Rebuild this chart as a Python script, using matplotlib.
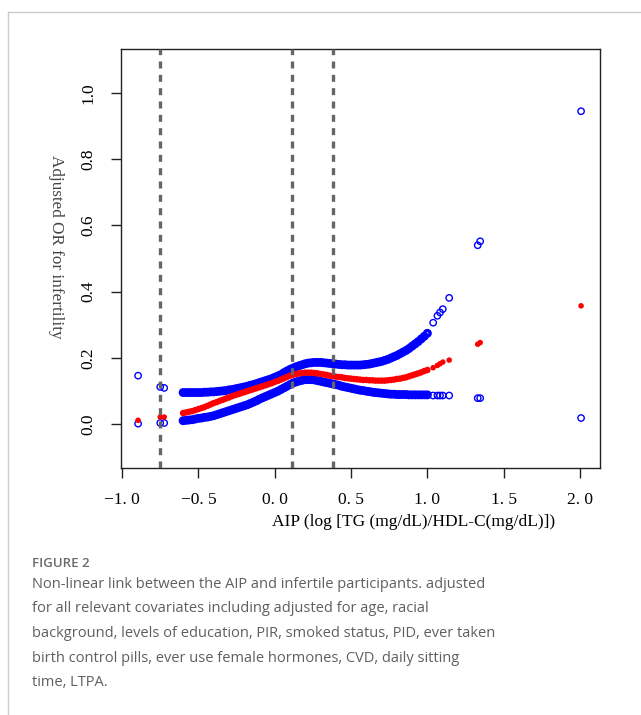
import matplotlib.pyplot as plt
from matplotlib.lines import Line2D

# AIP values and the fitted OR with its upper / lower limits
aip = [-0.895, -0.750, -0.724,
       -0.60, -0.58, -0.56, -0.54, -0.52, -0.50, -0.48, -0.46, -0.44, -0.42,
       -0.40, -0.38, -0.36, -0.34, -0.32, -0.30, -0.28, -0.26, -0.24, -0.22,
       -0.20, -0.18, -0.16, -0.14, -0.12, -0.10, -0.08, -0.06, -0.04, -0.02,
       0.00, 0.02, 0.04, 0.06, 0.08, 0.10, 0.12, 0.14, 0.16, 0.18,
       0.20, 0.22, 0.24, 0.26, 0.28, 0.30, 0.32, 0.34, 0.36, 0.38,
       0.40, 0.42, 0.44, 0.46, 0.48, 0.50, 0.52, 0.54, 0.56, 0.58,
       0.60, 0.62, 0.64, 0.66, 0.68, 0.70, 0.72, 0.74, 0.76, 0.78,
       0.80, 0.82, 0.84, 0.86, 0.88, 0.90, 0.92, 0.94, 0.96, 0.98, 1.00,
       1.038, 1.066, 1.083, 1.101, 1.143, 1.330, 1.346, 2.007]

or_upper = [0.146, 0.112, 0.109,
            0.095, 0.095, 0.095, 0.095, 0.095, 0.095, 0.095, 0.096, 0.096, 0.097,
            0.097, 0.098, 0.099, 0.100, 0.101, 0.103, 0.104, 0.106, 0.108, 0.110,
            0.112, 0.114, 0.117, 0.119, 0.122, 0.125, 0.128, 0.131, 0.134, 0.137,
            0.141, 0.145, 0.149, 0.155, 0.160, 0.165, 0.169, 0.173, 0.176, 0.179,
            0.182, 0.184, 0.185, 0.186, 0.186, 0.186, 0.185, 0.184, 0.183, 0.182,
            0.181, 0.180, 0.179, 0.179, 0.178, 0.178, 0.178, 0.178, 0.178, 0.179,
            0.180, 0.181, 0.183, 0.185, 0.187, 0.189, 0.192, 0.195, 0.199, 0.203,
            0.207, 0.212, 0.217, 0.222, 0.228, 0.235, 0.242, 0.249, 0.257, 0.265, 0.274,
            0.306, 0.327, 0.337, 0.347, 0.381, 0.540, 0.552, 0.945]

or_fit = [0.011, 0.021, 0.021,
          0.033, 0.035, 0.037, 0.039, 0.042, 0.045, 0.048, 0.051, 0.055, 0.059,
          0.063, 0.066, 0.070, 0.073, 0.077, 0.080, 0.084, 0.087, 0.090, 0.093,
          0.096, 0.099, 0.102, 0.105, 0.108, 0.111, 0.114, 0.117, 0.120, 0.123,
          0.127, 0.130, 0.134, 0.138, 0.142, 0.146, 0.149, 0.151, 0.153, 0.154,
          0.155, 0.155, 0.155, 0.154, 0.153, 0.151, 0.150, 0.148, 0.146, 0.145,
          0.143, 0.142, 0.141, 0.139, 0.138, 0.137, 0.136, 0.135, 0.134, 0.133,
          0.133, 0.132, 0.132, 0.131, 0.131, 0.131, 0.131, 0.132, 0.133, 0.134,
          0.136, 0.137, 0.139, 0.141, 0.144, 0.147, 0.150, 0.153, 0.156, 0.160, 0.163,
          0.170, 0.177, 0.182, 0.187, 0.193, 0.241, 0.246, 0.357]

or_lower = [0.001, 0.003, 0.003,
            0.010, 0.011, 0.012, 0.013, 0.015, 0.017, 0.018, 0.020, 0.021, 0.023,
            0.025, 0.028, 0.031, 0.034, 0.037, 0.040, 0.043, 0.046, 0.049, 0.052,
            0.055, 0.058, 0.062, 0.066, 0.070, 0.075, 0.079, 0.083, 0.087, 0.091,
            0.095, 0.099, 0.104, 0.109, 0.114, 0.119, 0.124, 0.127, 0.130, 0.132,
            0.134, 0.134, 0.134, 0.133, 0.131, 0.129, 0.127, 0.125, 0.123, 0.121,
            0.119, 0.117, 0.114, 0.112, 0.110, 0.108, 0.106, 0.104, 0.102, 0.101,
            0.099, 0.098, 0.096, 0.095, 0.094, 0.093, 0.092, 0.091, 0.090, 0.090,
            0.089, 0.089, 0.089, 0.089, 0.088, 0.088, 0.088, 0.088, 0.088, 0.088, 0.088,
            0.086, 0.086, 0.086, 0.086, 0.086, 0.078, 0.078, 0.018]

cut_points = [-0.75, 0.115, 0.382]

x_ticks = [-1.0, -0.5, 0.0, 0.5, 1.0, 1.5, 2.0]
x_tick_labels = ['\u22121. 0', '\u22120. 5', '0. 0', '0. 5', '1. 0', '1. 5', '2. 0']
y_ticks = [0.0, 0.2, 0.4, 0.6, 0.8, 1.0]
y_tick_labels = ['0.0', '0.2', '0.4', '0.6', '0.8', '1.0']

caption_lines = [
    'Non-linear link between the AIP and infertile participants. adjusted',
    'for all relevant covariates including adjusted for age, racial',
    'background, levels of education, PIR, smoked status, PID, ever taken',
    'birth control pills, ever use female hormones, CVD, daily sitting',
    'time, LTPA.',
]

W, H = 641, 715
serif = 'Liberation Serif'

fig = plt.figure(figsize=(W / 100, H / 100), dpi=100)
ax = fig.add_axes([121 / W, 1 - 468 / H, (600 - 121) / W, (468 - 49) / H])

# where the participants are packed tightly the rings merge into a solid band
packed = [-0.65 < x <= 1.0 for x in aip]
ring_size = [16 if p else 21 for p in packed]
ring_lw = [2.4 if p else 1.0 for p in packed]
dot_size = [22 if p else 16 for p in packed]

ax.scatter(aip, or_lower, s=ring_size, facecolors='none', edgecolors='#0000ff',
           linewidths=ring_lw, zorder=2)
ax.scatter(aip, or_upper, s=ring_size, facecolors='none', edgecolors='#0000ff',
           linewidths=ring_lw, zorder=2)
ax.scatter(aip, or_fit, s=dot_size, c='#ff0000', linewidths=0, zorder=3)

for c in cut_points:
    ax.axvline(c, color='#666666', lw=2.4, dashes=(2.1, 1.9), zorder=4)

ax.set_xlim(-1.007, 2.131)
ax.set_ylim(-0.133, 1.133)
ax.set_xticks(x_ticks)
ax.set_xticklabels(x_tick_labels, fontname=serif, fontsize=12.5)
ax.set_yticks(y_ticks)
ax.set_yticklabels(y_tick_labels, fontname=serif, fontsize=12.5, rotation=90, va='center')
ax.tick_params(direction='out', length=7.5, width=1.0, color='#222222', pad=10)
for sp in ax.spines.values():
    sp.set_linewidth(1.0)
    sp.set_color('#222222')

fig.text(414 / W, 1 - 522 / H, 'AIP (log [TG (mg/dL)/HDL-C(mg/dL)])',
         fontname=serif, fontsize=12.5, ha='center', va='center')
fig.text(56 / W, 1 - 247 / H, 'Adjusted OR for infertility', fontname=serif,
         fontsize=12.3, color='#444444', rotation=270, ha='center', va='center')

# card border
fig.add_artist(Line2D([8 / W, 8 / W], [0, 1 - 12 / H], transform=fig.transFigure, color='#cccccc', lw=1))
fig.add_artist(Line2D([8 / W, 1], [1 - 12 / H, 1 - 12 / H], transform=fig.transFigure, color='#cccccc', lw=1))

fig.text(32 / W, 1 - 567 / H, 'FIGURE 2', fontname='Open Sans', fontsize=9.5,
         fontweight='semibold', color='#6a6a6a', va='baseline')
for i, line in enumerate(caption_lines):
    fig.text(32 / W, 1 - (588 + 24.5 * i) / H, line, fontname='Open Sans', fontsize=10.5,
             color='#5f5f5f', va='baseline')

fig.savefig('out.png', dpi=100)
